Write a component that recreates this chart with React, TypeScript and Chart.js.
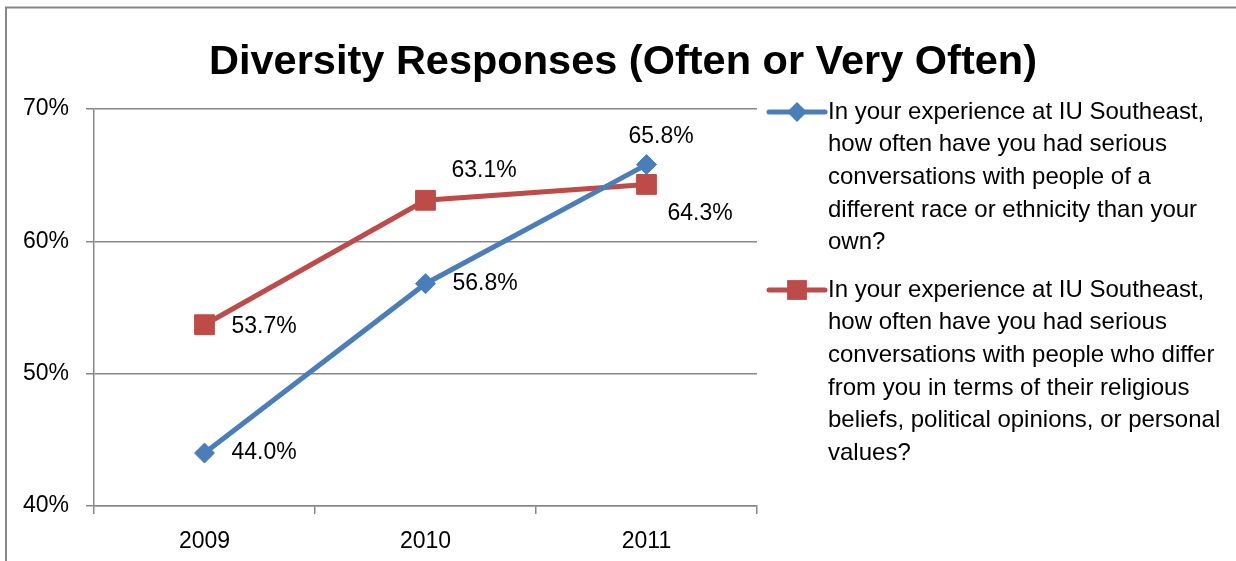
import React, { useEffect, useRef } from 'react';
import { Chart, registerables } from 'chart.js';

Chart.register(...registerables);

// ---- data ----
const years = ['2009', '2010', '2011'];
const raceValues = [44.0, 56.8, 65.8];
const beliefValues = [53.7, 63.1, 64.3];
const yTickValues = [40, 50, 60, 70];
const titleText = 'Diversity Responses (Often or Very Often)';
const raceLegendLines = [
  'In your experience at IU Southeast,',
  'how often have you had serious',
  'conversations with people of a',
  'different race or ethnicity than your',
  'own?',
];
const beliefLegendLines = [
  'In your experience at IU Southeast,',
  'how often have you had serious',
  'conversations with people who differ',
  'from you in terms of their religious',
  'beliefs, political opinions, or personal',
  'values?',
];

// ---- styles ----
const FONT = '"Liberation Sans", Arial, sans-serif';
const BLUE = '#4A7EBB';
const RED = '#BE4B48';
const GRAY = '#878787';
const raceLabelOffsets = [[27, 0], [27, 0], [-18, -28]];
const beliefLabelOffsets = [[27, 2], [26, -30], [21, 29]];

const framePlugin = {
  id: 'frame',
  beforeDraw(chart: any) {
    const { ctx, width, height } = chart;
    ctx.save();
    ctx.fillStyle = '#ffffff';
    ctx.fillRect(0, 0, width, height);
    ctx.strokeStyle = GRAY;
    ctx.lineWidth = 2;
    ctx.beginPath();
    ctx.moveTo(6, height + 10);
    ctx.lineTo(6, 7.5);
    ctx.lineTo(width + 10, 7.5);
    ctx.stroke();
    ctx.restore();
  },
};

const dataLabelPlugin = {
  id: 'dataLabels',
  afterDatasetsDraw(chart: any) {
    const { ctx } = chart;
    ctx.save();
    ctx.font = `23px ${FONT}`;
    ctx.fillStyle = '#000000';
    ctx.textAlign = 'left';
    ctx.textBaseline = 'middle';
    chart.data.datasets.forEach((ds: any, i: number) => {
      const meta = chart.getDatasetMeta(i);
      const offs = ds.labelOffsets || [];
      meta.data.forEach((pt: any, j: number) => {
        const v = ds.data[j];
        const [dx, dy] = offs[j] || [20, 0];
        ctx.fillText(v.toFixed(1) + '%', pt.x + dx, pt.y + dy);
      });
    });
    ctx.restore();
  },
};

const legendPlugin = {
  id: 'customLegend',
  afterDraw(chart: any) {
    const { ctx } = chart;
    const lineH = 32.7;
    const gap = 14.5;
    const lineX0 = 769;
    const lineX1 = 825;
    const textX = 828;
    let y = 112;
    ctx.save();
    chart.data.datasets.forEach((ds: any) => {
      const color = ds.borderColor;
      ctx.strokeStyle = color;
      ctx.lineWidth = 5;
      ctx.lineCap = 'round';
      ctx.beginPath();
      ctx.moveTo(lineX0, y);
      ctx.lineTo(lineX1, y);
      ctx.stroke();
      const cx = (lineX0 + lineX1) / 2;
      ctx.fillStyle = color;
      if (ds.pointStyle === 'rectRot') {
        const r = ds.pointRadius;
        ctx.beginPath();
        ctx.moveTo(cx, y - r);
        ctx.lineTo(cx + r, y);
        ctx.lineTo(cx, y + r);
        ctx.lineTo(cx - r, y);
        ctx.closePath();
        ctx.fill();
      } else {
        const s = ds.pointRadius * Math.SQRT1_2;
        ctx.fillRect(cx - s, y - s, 2 * s, 2 * s);
      }
      ctx.fillStyle = '#000000';
      ctx.font = `24px ${FONT}`;
      ctx.textAlign = 'left';
      ctx.textBaseline = 'middle';
      const lines: string[] = ds.legendLines;
      lines.forEach((ln, k) => {
        ctx.fillText(ln, textX, y + k * lineH);
      });
      y += lines.length * lineH + gap;
    });
    ctx.restore();
  },
};

export default function App() {
  const ref = useRef<HTMLCanvasElement | null>(null);
  useEffect(() => {
    if (!ref.current) return;
    const chart = new Chart(ref.current, {
      type: 'line',
      data: {
        labels: years,
        datasets: [
          {
            label: raceLegendLines.join(' '),
            data: raceValues,
            borderColor: BLUE,
            backgroundColor: BLUE,
            borderWidth: 5,
            pointStyle: 'rectRot',
            pointRadius: 10,
            pointBorderWidth: 1,
            pointBackgroundColor: BLUE,
            pointBorderColor: BLUE,
            tension: 0,
            legendLines: raceLegendLines,
            labelOffsets: raceLabelOffsets,
          } as any,
          {
            label: beliefLegendLines.join(' '),
            data: beliefValues,
            borderColor: RED,
            backgroundColor: RED,
            borderWidth: 5,
            pointStyle: 'rect',
            pointRadius: 14,
            pointBorderWidth: 1,
            pointBackgroundColor: RED,
            pointBorderColor: RED,
            tension: 0,
            legendLines: beliefLegendLines,
            labelOffsets: beliefLabelOffsets,
          } as any,
        ],
      },
      options: {
        responsive: false,
        animation: false,
        layout: { padding: { left: 10, right: 0, top: 0, bottom: 0 } },
        plugins: {
          legend: { display: false },
          tooltip: { enabled: false },
          title: {
            display: true,
            text: titleText,
            color: '#000000',
            font: { family: FONT, size: 41.5, weight: 'bold', lineHeight: 1.2 },
            padding: { top: 38, bottom: 21.2 },
          },
        },
        scales: {
          x: {
            type: 'category',
            offset: true,
            afterFit: (s: any) => {
              s.height = 55;
            },
            grid: {
              display: true,
              drawOnChartArea: false,
              drawTicks: true,
              tickLength: 8,
              offset: true,
              color: GRAY,
              lineWidth: 1.5,
            },
            border: { display: true, color: GRAY, width: 1.5 },
            ticks: {
              color: '#000000',
              font: { family: FONT, size: 23 },
              padding: 14,
              maxRotation: 0,
            },
          },
          y: {
            type: 'linear',
            min: 40,
            max: 70,
            afterFit: (s: any) => {
              s.width = 84;
            },
            afterBuildTicks: (s: any) => {
              s.ticks = yTickValues.map((v) => ({ value: v }));
            },
            grid: {
              color: GRAY,
              lineWidth: 1.5,
              drawTicks: true,
              tickLength: 8,
            },
            border: { display: true, color: GRAY, width: 1.5 },
            ticks: {
              color: '#000000',
              font: { family: FONT, size: 23 },
              padding: 17,
              callback: (v: any) => v + '%',
            },
          },
          yReserve: {
            type: 'linear',
            position: 'right',
            display: true,
            afterFit: (s: any) => {
              s.width = 479;
            },
            grid: { display: false, drawOnChartArea: false },
            border: { display: false },
            ticks: { display: false },
          },
        },
      } as any,
      plugins: [framePlugin, dataLabelPlugin, legendPlugin],
    });
    return () => chart.destroy();
  }, []);
  return (
    <div style={{ position: 'fixed', left: 0, top: 0, width: 1236, height: 561, background: '#fff' }}>
      <canvas ref={ref} width={1236} height={561} style={{ display: 'block' }} />
    </div>
  );
}
